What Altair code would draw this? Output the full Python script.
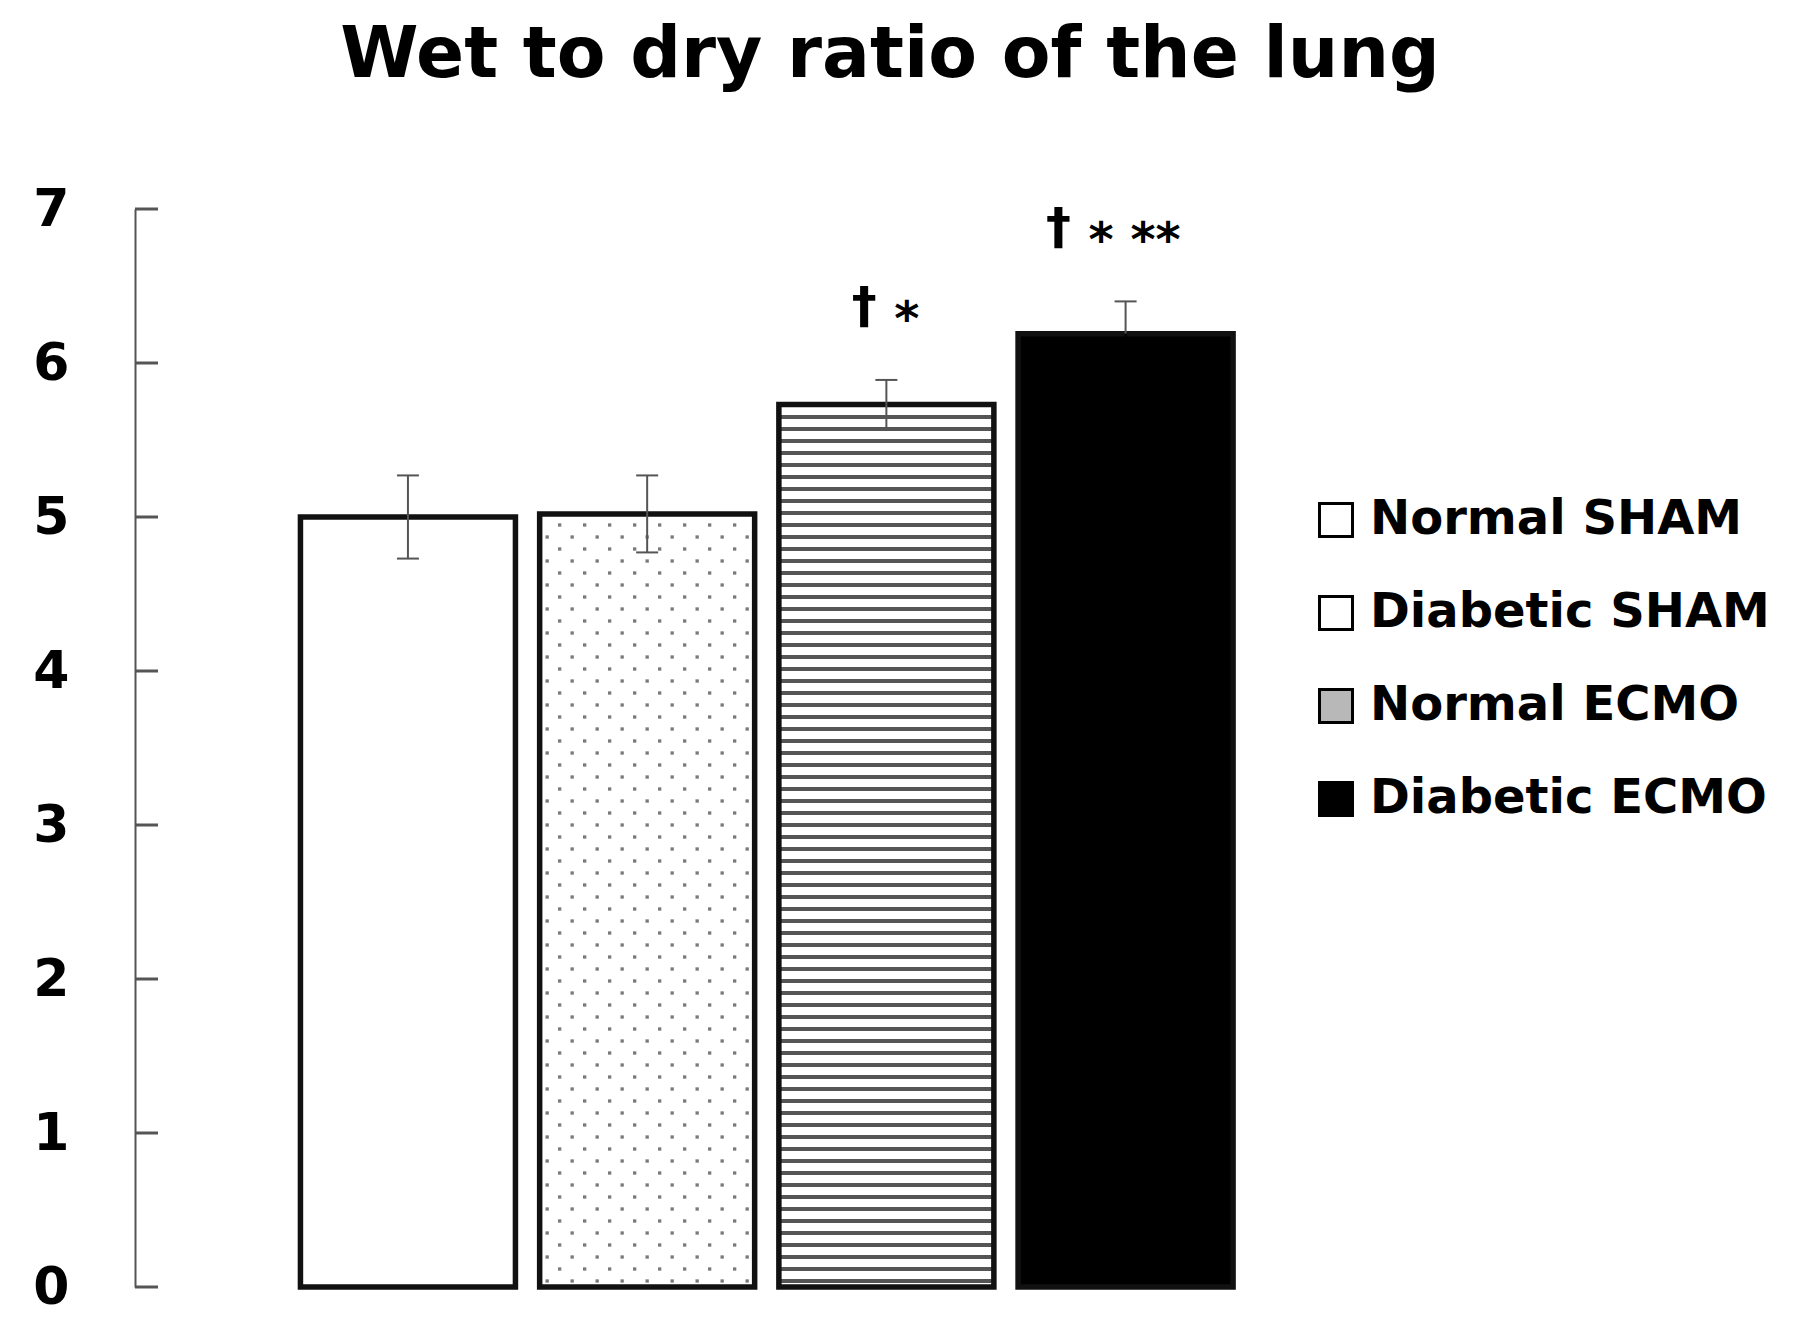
import altair as alt
import pandas as pd

# ---------------- data ----------------
GROUPS = ["Normal SHAM", "Diabetic SHAM", "Normal ECMO", "Diabetic ECMO"]
MEANS = [5.00, 5.02, 5.73, 6.19]
SDS = [0.27, 0.25, 0.16, 0.21]
DAGGERS = ["", "", "†", "†"]
STARS = ["", "", "*", "* **"]
Y_TICKS = [0, 1, 2, 3, 4, 5, 6, 7]
TITLE = "Wet to dry ratio of the lung"

# ---------------- style / layout ----------------
FONT = "DejaVu Sans"
W, H = 1120, 1078
X_DOMAIN = [-1.141, 3.541]
PX = W / (X_DOMAIN[1] - X_DOMAIN[0])      # pixels per category step
HW = 107.5 / PX                            # bar half width
CAP = 11 / PX                              # error-bar cap half width
Y_PITCH = 12 / (H / 7)                     # pattern pitch (12 px) in data units
ANN_SHIFT = 15 / PX
BAR_FILLS = ["white", "white", "white", "black"]
LEGEND_FILLS = ["white", "white", "#b8b8b8", "black"]

df = pd.DataFrame({
    "group": GROUPS, "mean": MEANS, "sd": SDS,
    "dagger": DAGGERS, "stars": STARS, "idx": list(range(len(GROUPS))),
})

x_scale = alt.Scale(domain=X_DOMAIN, nice=False, zero=False)
y_scale = alt.Scale(domain=[0, 7], nice=False, zero=True)
Y_AXIS = alt.Axis(values=Y_TICKS, title=None, grid=False, ticks=False, tickSize=0,
                  domainColor="#555555", domainWidth=2, labelFont=FONT,
                  labelFontWeight="bold", labelFontSize=52, labelColor="black",
                  labelPadding=66)


def xq(f):
    return alt.X(f, type="quantitative", scale=x_scale, axis=None)


def yq(f):
    return alt.Y(f, type="quantitative", scale=y_scale, axis=Y_AXIS)


base = alt.Chart(df).transform_calculate(
    x0=f"datum.idx - {HW}", x1=f"datum.idx + {HW}",
    lo="datum.mean - datum.sd", hi="datum.mean + datum.sd",
    c0=f"datum.idx - {CAP}", c1=f"datum.idx + {CAP}",
)

bars_fill = base.mark_rect().encode(
    x=xq("x0"), x2="x1:Q", y=yq("mean"), y2=alt.datum(0),
    fill=alt.Fill("group:N", scale=alt.Scale(domain=GROUPS, range=BAR_FILLS), legend=None),
)

dots = base.transform_filter(alt.datum.group == "Diabetic SHAM").transform_calculate(
    k=f"sequence(0, floor(datum.mean / {Y_PITCH}))"
).transform_flatten(["k"]).transform_calculate(
    col="sequence(0, 9)"
).transform_flatten(["col"]).transform_calculate(
    px=f"datum.idx - {HW} + (7.5 + datum.col * 25 + (datum.k % 2) * 12.5) / {PX}",
    py=f"(datum.k + 0.5) * {Y_PITCH}",
).transform_filter(f"datum.px < datum.idx + {HW} - 4 / {PX}").mark_square(
    size=11, color="#7a7a7a", opacity=1
).encode(x=xq("px"), y=yq("py"))

stripes = base.transform_filter(alt.datum.group == "Normal ECMO").transform_calculate(
    k=f"sequence(0, floor(datum.mean / {Y_PITCH}))"
).transform_flatten(["k"]).transform_calculate(
    sy=f"(datum.k + 0.5) * {Y_PITCH}"
).mark_rule(color="#555555", strokeWidth=4).encode(x=xq("x0"), x2="x1:Q", y=yq("sy"))

outline = base.mark_rect(fillOpacity=0, stroke="#111111", strokeWidth=5.5).encode(
    x=xq("x0"), x2="x1:Q", y=yq("mean"), y2=alt.datum(0)
)

low_color = alt.condition("datum.group === 'Diabetic ECMO'", alt.value("black"), alt.value("#555555"))
err_up = base.mark_rule(color="#555555", strokeWidth=2).encode(x=xq("idx"), y=yq("mean"), y2="hi:Q")
err_dn = base.mark_rule(strokeWidth=2).encode(x=xq("idx"), y=yq("lo"), y2="mean:Q", color=low_color)
cap_up = base.mark_rule(color="#555555", strokeWidth=2).encode(x=xq("c0"), x2="c1:Q", y=yq("hi"))
cap_dn = base.mark_rule(strokeWidth=2).encode(x=xq("c0"), x2="c1:Q", y=yq("lo"), color=low_color)

ann = base.transform_filter("datum.stars != ''").transform_calculate(
    ax=f"datum.idx - {ANN_SHIFT} * (length(datum.stars) - 1)"
)
daggers = ann.mark_text(font=FONT, fontWeight="bold", fontSize=50, align="center",
                        baseline="alphabetic", dx=-22, dy=-58, color="black").encode(
    x=xq("ax"), y=yq("hi"), text="dagger:N")
stars = ann.mark_text(font=FONT, fontWeight="bold", fontSize=48, align="left",
                      baseline="alphabetic", dx=8, dy=-45, color="black").encode(
    x=xq("ax"), y=yq("hi"), text="stars:N")

ticks = alt.Chart(pd.DataFrame({"t": Y_TICKS})).mark_rule(color="#555555", strokeWidth=3).encode(
    x=alt.value(0), x2=alt.value(23), y=yq("t"))

legend = alt.Legend(
    title=None, orient="none", legendX=1177, legendY=287, symbolType="square",
    symbolSize=1089, symbolStrokeWidth=3, symbolStrokeColor="black", labelFont=FONT,
    labelFontWeight="bold", labelFontSize=48, labelColor="black",
    labelOffset=10, labelLimit=800, rowPadding=45, padding=0,
)

legend_layer = base.transform_filter("false").mark_square(
    filled=True, opacity=1, stroke="black", strokeWidth=3
).encode(
    x=xq("idx"), y=yq("mean"),
    fill=alt.Fill("group:N", scale=alt.Scale(domain=GROUPS, range=LEGEND_FILLS), legend=legend),
)

chart = alt.layer(
    bars_fill, dots, stripes, outline, err_up, err_dn, cap_up, cap_dn,
    daggers, stars, ticks, legend_layer,
).resolve_scale(fill="independent").properties(
    width=W, height=H,
    title=alt.TitleParams(TITLE, font=FONT, fontSize=71, fontWeight="bold", color="black",
                          anchor="middle", dx=195, offset=91),
    autosize=alt.AutoSizeParams(type="none"),
    padding={"left": 127, "top": 201, "right": 525, "bottom": 30},
    background="white",
).configure_view(stroke=None)

chart.save("out.html", embed_options={"renderer": "svg", "actions": False})
